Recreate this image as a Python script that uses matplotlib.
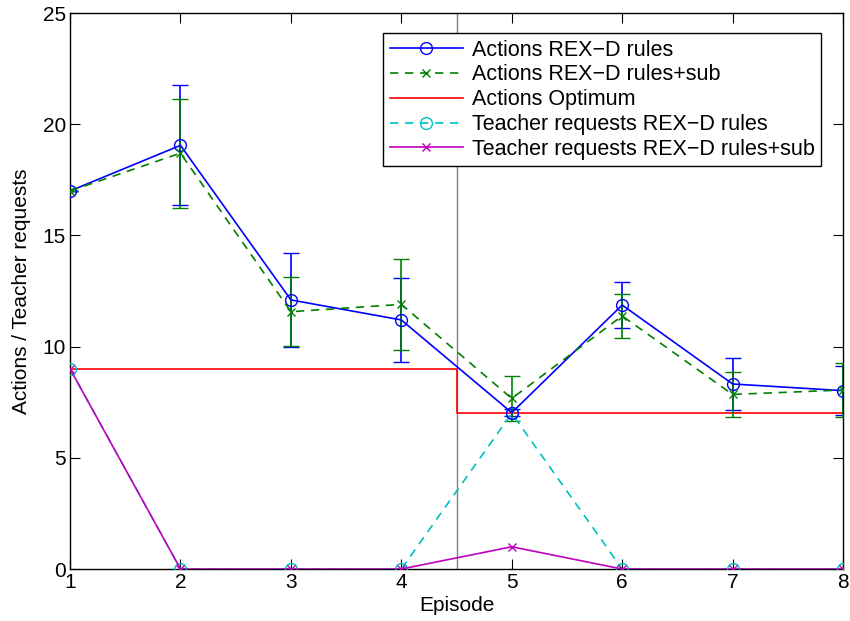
import matplotlib
matplotlib.use("Agg")
import matplotlib.pyplot as plt
from matplotlib.lines import Line2D

plt.rcParams['font.family'] = ['Liberation Sans', 'DejaVu Sans']

episodes = [1, 2, 3, 4, 5, 6, 7, 8]
actions_rules = [17.0, 19.05, 12.1, 11.2, 7.03, 11.87, 8.32, 8.02]
actions_rules_err = [0.0, 2.7, 2.1, 1.87, 0.15, 1.03, 1.18, 1.1]
actions_sub = [17.0, 18.7, 11.57, 11.9, 7.67, 11.38, 7.85, 8.05]
actions_sub_err = [0.0, 2.45, 1.55, 2.04, 1.03, 1.0, 1.0, 1.2]
optimum_x = [1, 4.5, 4.5, 8]
optimum_y = [9, 9, 7, 7]
teacher_rules = [9, 0, 0, 0, 7, 0, 0, 0]
teacher_sub = [9, 0, 0, 0, 1, 0, 0, 0]
split_x = 4.5
labels = ['Actions REX\u2212D rules', 'Actions REX\u2212D rules+sub', 'Actions Optimum',
          'Teacher requests REX\u2212D rules', 'Teacher requests REX\u2212D rules+sub']

fig = plt.figure(figsize=(8.5, 6.21), dpi=100)
ax = fig.add_axes([0.0824, 0.0837, 0.9094, 0.8953])

ms_o = 8.5
ms_x = 6
lw = 1.2
blue, green, red, cyan, mag = '#0000ff', '#008000', '#ff0000', '#00bfbf', '#bf00bf'
ax.axvline(split_x, color='#808080', lw=1.0, zorder=1)

ax.errorbar(episodes, actions_rules, yerr=actions_rules_err, color=blue, ls='-',
            marker='o', mfc='none', ms=ms_o, lw=lw, elinewidth=lw, capsize=5.5, zorder=3)
ax.errorbar(episodes, actions_sub, yerr=actions_sub_err, color=green, ls='--',
            marker='x', ms=ms_x, lw=lw, elinewidth=lw, capsize=5.5, dashes=(5, 4), zorder=3)
ax.plot(optimum_x, optimum_y, color=red, lw=lw, zorder=2)
ax.plot(episodes, teacher_rules, color=cyan, ls='--', dashes=(5, 4), marker='o',
        mfc='none', ms=ms_o, lw=lw, zorder=3)
ax.plot(episodes, teacher_sub, color=mag, ls='-', marker='x', ms=ms_x, lw=lw, zorder=4)

ax.set_xlim(1, 8)
ax.set_ylim(0, 25)
ax.set_xticks(episodes)
ax.set_yticks([0, 5, 10, 15, 20, 25])
ax.tick_params(direction='in', top=True, right=True, labelsize=15, length=7, pad=3)
for s in ax.spines.values():
    s.set_linewidth(1.0)
ax.set_xlabel('Episode', fontsize=15, labelpad=3)
ax.set_ylabel('Actions / Teacher requests', fontsize=15, labelpad=8)

handles = [
    Line2D([], [], color=blue, ls='-', marker='o', mfc='none', ms=ms_o, lw=lw),
    Line2D([], [], color=green, ls='--', dashes=(5, 4), marker='x', ms=ms_x, lw=lw),
    Line2D([], [], color=red, ls='-', lw=lw),
    Line2D([], [], color=cyan, ls='--', dashes=(5, 4), marker='o', mfc='none', ms=ms_o, lw=lw),
    Line2D([], [], color=mag, ls='-', marker='x', ms=ms_x, lw=lw),
]
leg = ax.legend(handles, labels, loc='upper right', bbox_to_anchor=(0.9715, 0.964),
                fontsize=15.5, handlelength=3.4, fancybox=False, framealpha=1,
                edgecolor='black', borderpad=0.3, labelspacing=0.18,
                handletextpad=0.4, borderaxespad=0)
leg.get_frame().set_linewidth(1.0)

fig.savefig('out.png', dpi=100)
